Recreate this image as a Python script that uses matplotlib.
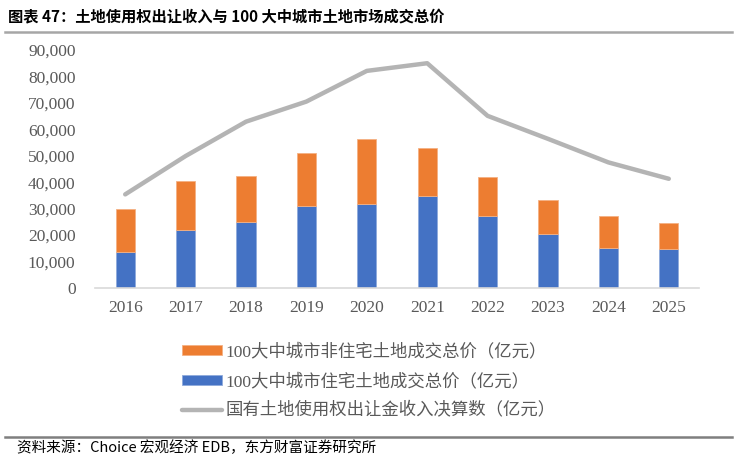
import matplotlib
matplotlib.use("Agg")
import matplotlib.pyplot as plt
import numpy as np
from matplotlib.ticker import FuncFormatter

years = ["2016", "2017", "2018", "2019", "2020", "2021", "2022", "2023", "2024", "2025"]
residential = [13500, 22000, 24800, 30900, 31900, 34900, 27400, 20500, 15100, 14900]
total_100 = [29800, 40600, 42400, 51100, 56200, 53000, 41900, 33200, 27200, 24600]
non_residential = [t - r for t, r in zip(total_100, residential)]
land_income = [35400, 49900, 62900, 70500, 82100, 85000, 65100, 56400, 47500, 41300]

lab_non = "100大中城市非住宅土地成交总价（亿元）"
lab_res = "100大中城市住宅土地成交总价（亿元）"
lab_line = "国有土地使用权出让金收入决算数（亿元）"

W, H = 737, 461
fig = plt.figure(figsize=(W / 100, H / 100), dpi=100)
ax = fig.add_axes([95 / W, 1 - 288 / H, (699 - 95) / W, (288 - 50) / H])

x = np.arange(len(years))
b_res = ax.bar(x, residential, width=0.32, color="#4472C4", edgecolor="#8FAADC",
               linewidth=0.6, zorder=2)
b_non = ax.bar(x, non_residential, bottom=residential, width=0.32, color="#ED7D31",
               edgecolor="#F4B183", linewidth=0.6, zorder=2)
ln, = ax.plot(x, land_income, color="#B4B4B4", linewidth=3.2, solid_capstyle="round",
              zorder=3)

ax.set_xlim(-0.5, len(years) - 0.5)
ax.set_ylim(0, 90000)
ax.set_yticks(np.arange(0, 90001, 10000))
ax.yaxis.set_major_formatter(FuncFormatter(lambda v, p: f"{int(v):,}"))
ax.set_xticks(x)
ax.set_xticklabels(years)
for s in ["top", "right", "left"]:
    ax.spines[s].set_visible(False)
ax.spines["bottom"].set_color("#D9D9D9")
ax.spines["bottom"].set_linewidth(1.2)
ax.tick_params(axis="both", length=0, colors="#595959", labelsize=12.5)
ax.tick_params(axis="y", pad=14)
ax.tick_params(axis="x", pad=9)
for t in ax.get_xticklabels() + ax.get_yticklabels():
    t.set_family("Liberation Serif")

leg = fig.legend([b_non, b_res, ln], [lab_non, lab_res, lab_line], loc="upper left",
                 bbox_to_anchor=(166 / W, 1 - 328 / H), frameon=False,
                 prop={"family": ["Liberation Serif", "Noto Sans CJK SC"], "size": 12.5},
                 handlelength=2.3, handleheight=0.5, handletextpad=0.2, labelspacing=0.72)
for t in leg.get_texts():
    t.set_color("#595959")

fig.text(8 / W, 1 - 16 / H, "图表 47：土地使用权出让收入与 100 大中城市土地市场成交总价",
         family=["Noto Sans CJK SC", "DejaVu Sans"], fontweight="bold", fontsize=11,
         va="center", ha="left", color="black")
fig.add_artist(plt.Line2D([5 / W, 732 / W], [1 - 32 / H, 1 - 32 / H], color="#A6A6A6", linewidth=1.8))
fig.add_artist(plt.Line2D([5 / W, 732 / W], [1 - 437 / H, 1 - 437 / H], color="#7F7F7F", linewidth=1.8))
fig.text(17 / W, 1 - 448 / H, "资料来源：Choice 宏观经济 EDB，东方财富证券研究所",
         family=["Noto Sans CJK SC", "DejaVu Sans"], fontsize=10.5, va="center", ha="left",
         color="black")

fig.savefig("out.png", dpi=100)
